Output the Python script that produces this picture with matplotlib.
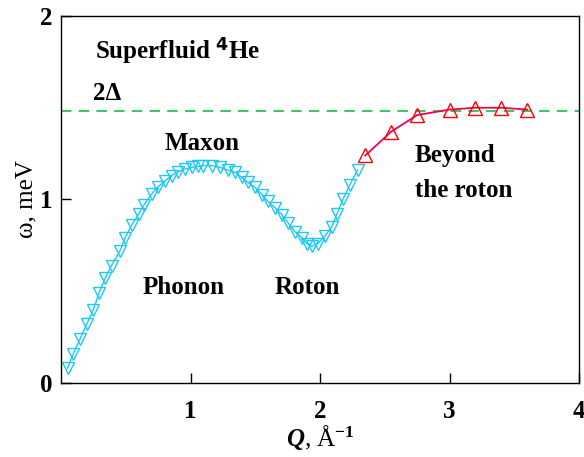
import matplotlib
matplotlib.use("Agg")
import matplotlib.pyplot as plt

# dispersion of superfluid 4He
q_blue = [0.05, 0.095, 0.147, 0.198, 0.25, 0.293, 0.34, 0.39, 0.455, 0.494,
          0.545, 0.60, 0.64, 0.70, 0.75, 0.80, 0.854, 0.90, 0.957, 1.01,
          1.06, 1.10, 1.165, 1.227, 1.289, 1.343, 1.397, 1.443, 1.497, 1.551,
          1.597, 1.651, 1.705, 1.752, 1.806, 1.86, 1.898, 1.937, 1.983, 2.037,
          2.09, 2.13, 2.176, 2.23, 2.29]
w_blue = [0.08, 0.16, 0.24, 0.32, 0.40, 0.49, 0.57, 0.64, 0.72, 0.79,
          0.86, 0.92, 0.97, 1.03, 1.07, 1.10, 1.13, 1.15, 1.165, 1.175,
          1.18, 1.185, 1.185, 1.175, 1.16, 1.148, 1.12, 1.093, 1.066, 1.027,
          0.989, 0.956, 0.918, 0.874, 0.825, 0.792, 0.76, 0.745, 0.76, 0.80,
          0.85, 0.92, 1.0, 1.08, 1.16]

q_red = [2.35, 2.55, 2.75, 3.0, 3.2, 3.4, 3.6]
w_red = [1.24, 1.37, 1.46, 1.49, 1.50, 1.50, 1.49]

two_delta = 1.48

x_ticks = [1, 2, 3, 4]
y_ticks = [0, 1, 2]


def main():
  plt.rcParams['font.family'] = 'Liberation Serif'
  plt.rcParams['font.weight'] = 'bold'
  plt.rcParams['mathtext.fontset'] = 'custom'
  plt.rcParams['mathtext.rm'] = 'Liberation Serif:bold'
  plt.rcParams['mathtext.it'] = 'Liberation Serif:italic'

  fig = plt.figure(figsize=(5.84, 4.57), dpi=100)
  ax = fig.add_axes([0.1045, 0.162, 0.887, 0.803])

  ax.axhline(two_delta, color="#3CC864", lw=1.5, ls=(0, (5, 3.5)))

  ax.plot(q_blue, w_blue, color="#1EC8F5", lw=1.0)
  ax.plot(q_blue, w_blue, ls="none", marker="v", ms=9, mfc="none",
          mec="#1EC8F5", mew=1.0)

  ax.plot(q_red, w_red, color="#F0005A", lw=1.3)
  ax.plot(q_red, w_red, ls="none", marker="^", ms=10, mfc="none",
          mec="#FF0000", mew=1.0)

  ax.set_xlim(0, 4)
  ax.set_ylim(0, 2)
  ax.set_xticks(x_ticks)
  ax.set_yticks(y_ticks)
  ax.tick_params(direction="in", length=7, width=1, labelsize=18)
  ax.tick_params(axis="x", pad=12)
  ax.tick_params(axis="y", pad=6)
  for s in ax.spines.values():
    s.set_linewidth(1.0)

  ax.set_xlabel(r"$Q$, Å$^{-1}$", fontsize=18, labelpad=0)
  ax.set_ylabel("ω, meV", fontsize=18, labelpad=2)

  fs = 18
  ax.text(0.26, 1.81, r"Superfluid $^{\mathbf{4}}$He", fontsize=fs, va="center")
  ax.text(0.247, 1.575, "2Δ", fontsize=fs, va="center")
  ax.text(0.80, 1.305, "Maxon", fontsize=fs, va="center")
  ax.text(0.63, 0.52, "Phonon", fontsize=fs, va="center")
  ax.text(1.65, 0.52, "Roton", fontsize=fs, va="center")
  ax.text(2.73, 1.24, "Beyond", fontsize=fs, va="center")
  ax.text(2.73, 1.05, "the roton", fontsize=fs, va="center")

  fig.savefig("out.png", dpi=100)


if __name__ == "__main__":
  main()
